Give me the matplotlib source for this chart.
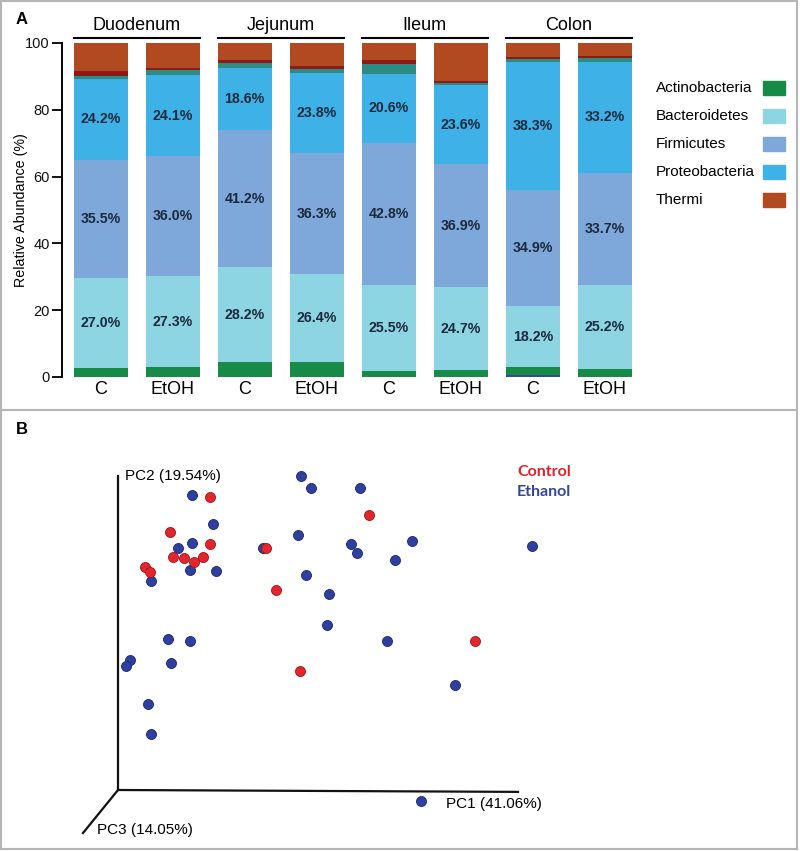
import matplotlib
matplotlib.use("Agg")
import matplotlib.pyplot as plt
from matplotlib.lines import Line2D
from matplotlib.patches import Rectangle
import numpy as np

plt.rcParams['font.family'] = ['Liberation Sans', 'DejaVu Sans']

# ---------------- Panel A data ----------------
groups = ["Duodenum", "Jejunum", "Ileum", "Colon"]
xlabels = ["C", "EtOH", "C", "EtOH", "C", "EtOH", "C", "EtOH"]
other_blue = [0, 0, 0, 0, 0, 0, 0.6, 0]
actinobacteria = [2.6, 2.9, 4.6, 4.4, 1.9, 2.1, 2.4, 2.3]
bacteroidetes = [27.0, 27.3, 28.2, 26.4, 25.5, 24.7, 18.2, 25.2]
firmicutes = [35.5, 36.0, 41.2, 36.3, 42.8, 36.9, 34.9, 33.7]
proteobacteria = [24.2, 24.1, 18.6, 23.8, 20.6, 23.6, 38.3, 33.2]
other_teal = [0.9, 1.5, 1.4, 1.2, 2.8, 0.8, 0.8, 1.0]
other_red = [1.5, 0.7, 1.0, 1.0, 1.4, 0.6, 0.5, 0.8]
thermi = [8.3, 7.5, 5.0, 6.9, 5.0, 11.3, 4.3, 3.8]

legend_names = ["Actinobacteria", "Bacteroidetes", "Firmicutes", "Proteobacteria", "Thermi"]

# ---------------- Panel B data (PCoA) ----------------
eth_pc1 = [0.184, 0.2375, 0.186, 0.149, 0.181, 0.246, 0.0825, 0.458, 0.482, 0.605,
           0.449, 0.5825, 0.5975, 0.693, 0.469, 0.528, 0.5225, 0.125, 0.18, 0.673,
           0.734, 1.035, 0.031, 0.020, 0.1325, 0.842, 0.075, 0.0825, 0.7575, 0.3625]
eth_pc2 = [0.940, 0.848, 0.788, 0.771, 0.701, 0.697, 0.667, 1.000, 0.961, 0.961,
           0.813, 0.783, 0.755, 0.732, 0.685, 0.624, 0.525, 0.480, 0.474, 0.475,
           0.792, 0.777, 0.414, 0.396, 0.404, 0.335, 0.275, 0.179, -0.035, 0.771]
ctl_pc1 = [0.229, 0.129, 0.231, 0.1375, 0.166, 0.19, 0.213, 0.068, 0.079, 0.369,
           0.628, 0.396, 0.8925, 0.455]
ctl_pc2 = [0.932, 0.822, 0.782, 0.743, 0.739, 0.725, 0.743, 0.709, 0.693, 0.770,
           0.875, 0.637, 0.474, 0.378]

W, H = 800, 851
fig = plt.figure(figsize=(W / 100, H / 100), dpi=100)

def fx(px):
    return px / W

def fy(py):
    return 1 - py / H

# frame lines
frame_c = '#b5b5b5'
for (x0, y0, x1, y1) in [(1, 1, 797, 1), (1, 849, 797, 849), (1, 1, 1, 849),
                         (797, 1, 797, 849), (1, 410, 797, 410)]:
    fig.add_artist(Line2D([fx(x0), fx(x1)], [fy(y0), fy(y1)], color=frame_c, lw=1.5))

# ---------------- Panel A ----------------
ax = fig.add_axes([fx(62), fy(377), (641 - 62) / W, (377 - 43) / H])
x = np.arange(len(xlabels))
bw = 0.75
series = [
    (other_blue, '#2b4a9a', None),
    (actinobacteria, '#178a48', None),
    (bacteroidetes, '#8dd5e3', 'lab'),
    (firmicutes, '#7ea7da', 'lab'),
    (proteobacteria, '#3eb1e6', 'lab'),
    (other_teal, '#2c8c84', None),
    (other_red, '#8e1a17', None),
    (thermi, '#b14a20', None),
]
bottom = np.zeros(len(x))
for vals, col, lab in series:
    v = np.array(vals, dtype=float)
    ax.bar(x, v, bw, bottom=bottom, color=col, edgecolor='none')
    if lab:
        for xi, b, h in zip(x, bottom, v):
            ax.text(xi, b + h / 2, f"{h:.1f}%", ha='center', va='center',
                    fontsize=10.2, fontweight='bold', color='#1c2a3d')
    bottom += v

ax.set_xlim(-0.535, 7.5)
ax.set_ylim(0, 100)
ax.set_yticks([0, 20, 40, 60, 80, 100])
ax.tick_params(axis='y', length=7, width=1.4, direction='out', labelsize=10.5, pad=2,
               colors='#111111')
ax.set_xticks(x)
ax.set_xticklabels(xlabels, fontsize=13)
ax.tick_params(axis='x', length=0, pad=3)
for s in ['top', 'right', 'bottom']:
    ax.spines[s].set_visible(False)
ax.spines['left'].set_linewidth(1.4)
ax.set_ylabel("Relative Abundance (%)", fontsize=10.3)
ax.yaxis.set_label_coords(-0.058, 0.5)

for gi, g in enumerate(groups):
    xa, xb = 2 * gi - bw / 2, 2 * gi + 1 + bw / 2
    ax.plot([xa, xb], [101.5, 101.5], color='black', lw=1.5, clip_on=False)
    ax.text((xa + xb) / 2, 105.2, g, ha='center', va='center', fontsize=13)

# legend
leg_colors = ['#178a48', '#8dd5e3', '#7ea7da', '#3eb1e6', '#b14a20']
for i, (name, col) in enumerate(zip(legend_names, leg_colors)):
    yc = 88 + 28 * i
    fig.text(fx(656), fy(yc), name, ha='left', va='center', fontsize=11)
    fig.add_artist(Rectangle((fx(763), fy(yc + 7)), 22 / W, 14 / H, color=col,
                             transform=fig.transFigure))

fig.text(fx(16), fy(20), "A", fontsize=12, fontweight='bold', ha='left', va='center')
fig.text(fx(16), fy(430), "B", fontsize=12, fontweight='bold', ha='left', va='center')

# ---------------- Panel B ----------------
bx = fig.add_axes([fx(40), fy(840), 740 / W, 420 / H])
bx.set_xlim((40 - 118) / 400, (780 - 118) / 400)
bx.set_ylim((790 - 840) / 314, (790 - 420) / 314)
bx.axis('off')

bx.plot([0, 0], [0, 1.0], color='#111111', lw=1.6)
bx.plot([0, 1.0], [0, -0.006], color='#111111', lw=1.6)
bx.plot([0, -0.0875], [0, -0.137], color='#111111', lw=1.6)
bx.text(0.0175, 1.0, "PC2 (19.54%)", fontsize=11, ha='left', va='center')
bx.text(0.82, -0.0446, "PC1 (41.06%)", fontsize=11, ha='left', va='center')
bx.text(-0.0525, -0.127, "PC3 (14.05%)", fontsize=11, ha='left', va='center')

bx.scatter(eth_pc1, eth_pc2, s=52, color='#2f3f9f', edgecolors='#1d2870',
           linewidths=0.6, zorder=3)
bx.scatter(ctl_pc1, ctl_pc2, s=52, color='#e3262d', edgecolors='#a01418',
           linewidths=0.6, zorder=4)

fig.text(fx(517), fy(472), "Control", color='#e3202a', fontsize=11.5,
         fontweight='bold', ha='left', va='center', family=['Lato', 'DejaVu Sans'])
fig.text(fx(517), fy(492), "Ethanol", color='#34479a', fontsize=11.5,
         fontweight='bold', ha='left', va='center', family=['Lato', 'DejaVu Sans'])

fig.savefig("out.png", dpi=100)
